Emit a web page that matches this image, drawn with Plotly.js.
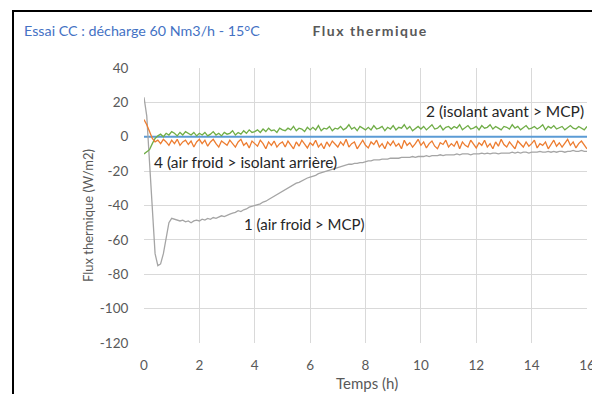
<!DOCTYPE html>
<html>
<head>
<meta charset="utf-8">
<script src="https://cdn.plot.ly/plotly-3.0.1.min.js"></script>
<style>
html,body{margin:0;padding:0;background:#fff;}
#chart{width:592px;height:394px;}
</style>
</head>
<body>
<div id="chart"></div>
<script>
// Time sampling (h): 0 to 16 every 0.1 h
const tStart = 0, tStepH = 0.1, tCount = 161;
const timeH = Array.from({length: tCount}, (_, i) => +(tStart + i * tStepH).toFixed(1));

// Series 2 (isolant avant > MCP) - green
const flux2 = [
 -10, -9, -7.5, -4, -1, 0.5,
 1.5, 0, 2, 1, 3,
 2, 0.5, 2.5, 1, 3, 2, 1, 2.5, 0.5, 2,
 1, 2.5, 0.5, 1.5, 3, 1, 2, 0.5, 2.5, 1.5,
 2, 3.5, 1, 2.5, 1.5, 3.5, 2, 4, 2.5, 3,
 4, 2.5, 4.5, 3, 5, 3.5, 4, 2.5, 5, 4,
 3.5, 5, 4, 6, 3.5, 5, 4.5, 3, 5.5, 4,
 5.5, 4, 6.5, 3.5, 5, 4.5, 6, 3.5, 5, 4.5,
 6, 4, 5, 7, 4.5, 5.5, 3.5, 6, 5, 4,
 5.5, 4, 6.5, 4.5, 5, 6, 3.5, 5.5, 4.5, 6.5,
 4, 5.5, 5, 7, 4.5, 6, 3.5, 5, 6, 4.5,
 6, 4, 5.5, 7, 4.5, 5, 6.5, 4, 5.5, 6,
 4.5, 6, 5, 7, 4, 5.5, 6.5, 4.5, 5, 6,
 4, 6.5, 5, 5.5, 7, 4.5, 6, 5, 4, 6,
 5.5, 4.5, 7, 5, 6, 4, 5.5, 6.5, 4.5, 5,
 6, 4.5, 5.5, 7, 4, 6, 5, 6.5, 4.5, 5.5,
 6, 4, 5.5, 6.5, 5, 4.5, 6, 5, 4, 6
];

// Series 4 (air froid > isolant arrière) - orange
const flux4 = [
 10, 7, 3, -1, -3, -2,
 -4, -1.5, -3, -5, -2,
 -4, -1.5, -5, -3, -2, -4.5, -2.5, -6, -3, -1.5,
 -4, -2, -5.5, -3, -1.5, -4, -6, -2.5, -3.5, -5,
 -2, -4, -6, -3, -1.5, -5, -3.5, -6.5, -2.5, -4,
 -5.5, -2, -4, -7, -3, -5, -2.5, -6, -4, -3,
 -6, -2.5, -4.5, -7, -3, -5.5, -2, -4, -6.5, -3.5,
 -5, -2, -6, -4, -7, -3, -5.5, -2.5, -4.5, -6,
 -3, -5, -1.5, -6, -4, -3, -7, -4.5, -2, -5,
 -6.5, -3, -4.5, -2, -6, -4, -7, -3, -5, -2.5,
 -5.5, -4, -7, -2, -5, -3.5, -6, -4, -1.5, -5,
 -3, -6.5, -4, -2.5, -5.5, -7, -3.5, -4.5, -2, -6,
 -4, -5.5, -2.5, -7, -3, -5, -6, -2, -4.5, -6.5,
 -3.5, -5, -2, -6, -4, -7, -3, -5.5, -1.5, -4.5,
 -6, -3, -5, -7, -2.5, -4.5, -6, -3, -5.5, -4,
 -2, -6.5, -4, -5, -3, -7, -4.5, -2, -5.5, -3.5,
 -6, -4, -1.5, -5, -3, -6.5, -4, -2.5, -5, -7
];

// Series 1 (air froid > MCP) - grey
const flux1 = [
 23, 12, -15, -45, -68, -75,
 -74, -68, -59, -50, -47.5,
 -48, -48.5, -49, -48.5, -49.5, -49, -50, -49, -48.5, -49,
 -48, -48.5, -47.5, -48, -47, -47.5, -46.5, -46, -46.5, -45.5,
 -45, -44.5, -44, -43, -43.5, -42.5, -42, -41, -40.5, -40,
 -39.5, -39, -38, -37.5, -36.5, -35.5, -34.5, -33.5, -32.5, -31.5,
 -30.5, -29.5, -29, -28, -27, -26.5, -25.5, -24.5, -24, -23.5,
 -23, -22.5, -21.5, -21, -20.5, -20, -19.5, -19, -18.5, -18,
 -17.5, -17, -16.5, -16, -16, -15.5, -15.5, -15, -15, -14.5,
 -14, -14, -13.5, -13.5, -13.5, -13, -13, -13, -12.5, -12.5,
 -12.5, -12.5, -12, -12, -12, -12, -11.5, -12, -11.5, -11.5,
 -11.5, -11, -11.5, -11, -11, -11, -10.5, -11, -10.5, -10.5,
 -10.5, -10.5, -10, -10.5, -10, -10, -10, -10.5, -10, -10,
 -10, -9.5, -10, -9.5, -10, -9.5, -9.5, -10, -9.5, -9.5,
 -9.5, -9.5, -9, -9.5, -9, -9.5, -9, -9, -9.5, -9,
 -9, -9, -8.5, -9, -9, -8.5, -9, -8.5, -9, -8.5,
 -8.5, -9, -8.5, -8.5, -8, -8.5, -8.5, -8, -8.5, -8.5
];

// Reference line (blue) at 0
const refT = [0, 16];
const refY = [0, 0];

// Axis ticks
const xTicks = [0, 2, 4, 6, 8, 10, 12, 14, 16];
const yTicks = [40, 20, 0, -20, -40, -60, -80, -100, -120];

// Text
const subtitleText = 'Essai CC : décharge 60 Nm3/h - 15°C';
const titleText = 'Flux thermique';
const xTitle = 'Temps (h)';
const yTitle = 'Flux thermique (W/m2)';
const label2 = '2 (isolant avant > MCP)';
const label4 = '4 (air froid > isolant arrière)';
const label1 = '1 (air froid > MCP)';

const FONT = 'Lato, "Open Sans", sans-serif';

const traces = [
  {x: refT, y: refY, mode: 'lines', line: {color: '#5B9BD5', width: 2}, name: 'ref'},
  {x: timeH, y: flux1, mode: 'lines', line: {color: '#A5A5A5', width: 1.3}, name: label1},
  {x: timeH, y: flux2, mode: 'lines', line: {color: '#70AD47', width: 1.3}, name: label2},
  {x: timeH, y: flux4, mode: 'lines', line: {color: '#ED7D31', width: 1.3}, name: label4}
];

const layout = {
  width: 592, height: 394,
  margin: {l: 144, r: 5, t: 68, b: 51},
  paper_bgcolor: '#ffffff', plot_bgcolor: '#ffffff',
  showlegend: false,
  font: {family: FONT, size: 13, color: '#595959'},
  xaxis: {
    range: [0, 16], tickvals: xTicks, ticktext: xTicks.map(String),
    showgrid: true, gridcolor: '#D9D9D9', gridwidth: 1,
    zeroline: false, showline: false,
    ticks: 'outside', ticklen: 10, tickcolor: 'rgba(0,0,0,0)',
    ticklabeloverflow: 'allow',
    tickfont: {family: FONT, size: 13.5, color: '#595959'}
  },
  yaxis: {
    range: [-120, 40], tickvals: yTicks, ticktext: yTicks.map(String),
    showgrid: true, gridcolor: '#D9D9D9', gridwidth: 1,
    zeroline: false, showline: false,
    ticks: 'outside', ticklen: 12, tickcolor: 'rgba(0,0,0,0)',
    tickfont: {family: FONT, size: 13.5, color: '#595959'}
  },
  shapes: [
    {type: 'rect', xref: 'paper', yref: 'paper', x0: -0.2957, x1: 1.2, y0: -0.5, y1: 1.2073,
     line: {color: '#000000', width: 2}, fillcolor: 'rgba(0,0,0,0)'}
  ],
  annotations: [
    {text: subtitleText, xref: 'paper', yref: 'paper', x: -0.2754, y: 1.138, xanchor: 'left', yanchor: 'middle',
     showarrow: false, font: {family: FONT, size: 14.3, color: '#4472C4'}},
    {text: '<b>' + titleText + '</b>', xref: 'paper', yref: 'paper', x: 0.511, y: 1.138, xanchor: 'center', yanchor: 'middle',
     showarrow: false, font: {family: FONT, size: 14, color: '#595959'}},
    {text: xTitle, xref: 'paper', yref: 'paper', x: 0.503, y: -0.145, xanchor: 'center', yanchor: 'middle',
     showarrow: false, font: {family: FONT, size: 15, color: '#595959'}},
    {text: yTitle, xref: 'paper', yref: 'paper', x: -0.1264, y: 0.4618, xanchor: 'center', yanchor: 'middle',
     textangle: -90, showarrow: false, font: {family: FONT, size: 13, color: '#595959'}},
    {text: label2, xref: 'paper', yref: 'paper', x: 0.816, y: 0.8436, xanchor: 'center', yanchor: 'middle',
     showarrow: false, font: {family: FONT, size: 15.5, color: '#262626'}},
    {text: label4, xref: 'paper', yref: 'paper', x: 0.228, y: 0.6596, xanchor: 'center', yanchor: 'middle',
     showarrow: false, font: {family: FONT, size: 15.5, color: '#262626'}},
    {text: label1, xref: 'paper', yref: 'paper', x: 0.3634, y: 0.4345, xanchor: 'center', yanchor: 'middle',
     showarrow: false, font: {family: FONT, size: 15, color: '#262626'}}
  ]
};

Plotly.newPlot('chart', traces, layout, {displayModeBar: false, staticPlot: true}).then(function (gd) {
  // Widen the spacing of the chart title, as in the original
  gd.querySelectorAll('.annotation-text').forEach(function (el) {
    if (el.textContent === titleText) {
      el.setAttribute('letter-spacing', '1.5px');
      el.style.letterSpacing = '1.5px';
    }
  });
});
</script>
</body>
</html>
